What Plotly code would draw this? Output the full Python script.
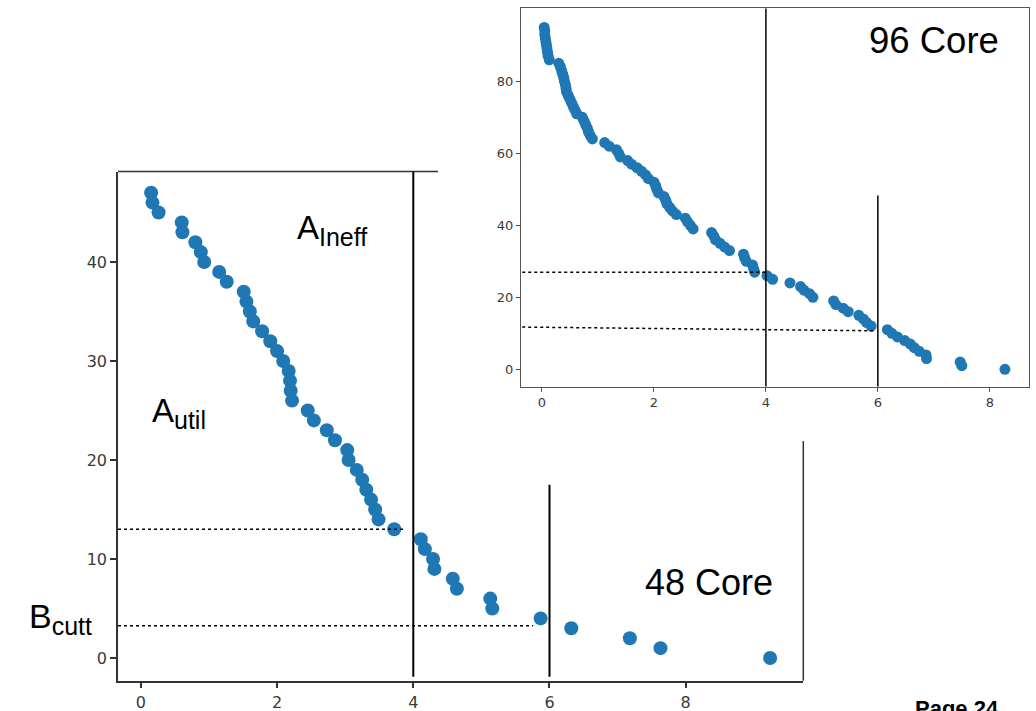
import plotly.graph_objects as go

# ---------------- data ----------------
# 48-core run: sorted per-core values (y) vs time (x)
x48 = [0.15, 0.17, 0.26, 0.60, 0.61, 0.80, 0.88, 0.93, 1.15, 1.26,
       1.51, 1.55, 1.60, 1.65, 1.78, 1.90, 2.00, 2.09, 2.17, 2.19,
       2.20, 2.22, 2.45, 2.54, 2.73, 2.85, 3.03, 3.05, 3.17, 3.25,
       3.31, 3.38, 3.44, 3.49, 3.72, 4.11, 4.17, 4.29, 4.31, 4.58,
       4.64, 5.13, 5.16, 5.87, 6.32, 7.18, 7.63, 9.24]
y48 = [47, 46, 45, 44, 43, 42, 41, 40, 39, 38,
       37, 36, 35, 34, 33, 32, 31, 30, 29, 28,
       27, 26, 25, 24, 23, 22, 21, 20, 19, 18,
       17, 16, 15, 14, 13, 12, 11, 10, 9, 8,
       7, 6, 5, 4, 3, 2, 1, 0]

# 96-core run (inset)
x96 = [0.04, 0.05, 0.05, 0.06, 0.07, 0.08, 0.09, 0.10, 0.11, 0.13,
       0.30, 0.33, 0.35, 0.37, 0.39, 0.40, 0.42, 0.43, 0.44, 0.47,
       0.50, 0.53, 0.56, 0.59, 0.62, 0.72, 0.75, 0.78, 0.81, 0.83,
       0.86, 0.90, 1.12, 1.20, 1.33, 1.37, 1.40, 1.53, 1.60, 1.70,
       1.78, 1.85, 1.90, 2.00, 2.03, 2.05, 2.08, 2.18, 2.21, 2.23,
       2.28, 2.33, 2.40, 2.56, 2.60, 2.65, 2.70, 3.03, 3.07, 3.10,
       3.18, 3.26, 3.35, 3.60, 3.62, 3.65, 3.76, 3.78, 3.80, 4.02,
       4.12, 4.43, 4.62, 4.68, 4.78, 4.84, 5.21, 5.25, 5.38, 5.47,
       5.66, 5.74, 5.80, 5.88, 6.17, 6.25, 6.35, 6.48, 6.58, 6.65,
       6.74, 6.86, 6.87, 7.47, 7.50, 8.27]
y96 = [95, 94, 93, 92, 91, 90, 89, 88, 87, 86,
       85, 84, 83, 82, 81, 80, 79, 78, 77, 76,
       75, 74, 73, 72, 71, 70, 69, 68, 67, 66,
       65, 64, 63, 62, 61, 60, 59, 58, 57, 56,
       55, 54, 53, 52, 51, 50, 49, 48, 47, 46,
       45, 44, 43, 42, 41, 40, 39, 38, 37, 36,
       35, 34, 33, 32, 31, 30, 29, 28, 27, 26,
       25, 24, 23, 22, 21, 20, 19, 18, 17, 16,
       15, 14, 13, 12, 11, 10, 9, 8, 7, 6,
       5, 4, 3, 2, 1, 0]

x48_ticks = [0, 2, 4, 6, 8]
y48_ticks = [0, 10, 20, 30, 40]
x96_ticks = [0, 2, 4, 6, 8]
y96_ticks = [0, 20, 40, 60, 80]

BLUE = "#1f77b4"
W, H = 1036, 711

fig = go.Figure()
fig.add_trace(go.Scatter(x=x48, y=y48, mode="markers", xaxis="x", yaxis="y",
                         marker=dict(size=14, color=BLUE, line=dict(width=0)),
                         cliponaxis=False, showlegend=False, hoverinfo="skip"))
fig.add_trace(go.Scatter(x=x96, y=y96, mode="markers", xaxis="x2", yaxis="y2",
                         marker=dict(size=11, color=BLUE, line=dict(width=0)),
                         cliponaxis=False, showlegend=False, hoverinfo="skip"))

tickfont_big = dict(family="DejaVu Sans", size=16, color="#3a3a3a")
tickfont_small = dict(family="DejaVu Sans", size=13, color="#3a3a3a")

X1 = [-0.336, 9.727]
Y1 = [-2.29, 49.14]
X2 = [-0.375, 8.70]
Y2 = [-4.83, 100.3]

common = dict(showgrid=False, zeroline=False, ticks="outside")
fig.update_layout(
    width=W, height=H, autosize=False,
    margin=dict(l=0, r=0, t=0, b=0, pad=0),
    paper_bgcolor="white", plot_bgcolor="rgba(0,0,0,0)",
    xaxis=dict(domain=[118 / W, 803.3 / W], range=X1, anchor="y",
               tickvals=x48_ticks, tickfont=tickfont_big, showline=True,
               linecolor="#333333", linewidth=1.5, ticklen=6, tickwidth=1.5,
               tickcolor="#333333", **common),
    yaxis=dict(domain=[1 - 680.7 / H, 1 - 171.5 / H], range=Y1, anchor="x",
               tickvals=y48_ticks, tickfont=tickfont_big, showline=True,
               linecolor="#333333", linewidth=1.5, ticklen=6, tickwidth=1.5,
               tickcolor="#333333", **common),
    xaxis2=dict(domain=[521 / W, 1029 / W], range=X2, anchor="y2",
                tickvals=x96_ticks, tickfont=tickfont_small, showline=True,
                mirror=True, linecolor="#555555", linewidth=1.2, ticklen=4,
                tickwidth=1.2, tickcolor="#555555", **common),
    yaxis2=dict(domain=[1 - 386.7 / H, 1 - 8.3 / H], range=Y2, anchor="x2",
                tickvals=y96_ticks, tickfont=tickfont_small, showline=True,
                mirror=True, linecolor="#555555", linewidth=1.2, ticklen=4,
                tickwidth=1.2, tickcolor="#555555", **common),
)

shapes = []
# partial top / right spines of the 48-core axes (rest hidden under the inset)
shapes.append(dict(type="line", xref="x domain", yref="y domain",
                   x0=0, x1=(438 - 118) / (803.3 - 118), y0=1, y1=1,
                   line=dict(color="#333333", width=1.5)))
shapes.append(dict(type="line", xref="x domain", yref="y domain",
                   x0=1, x1=1, y0=0, y1=(680.7 - 441) / (680.7 - 171.5),
                   line=dict(color="#333333", width=1.5)))
# 48-core markers
shapes.append(dict(type="line", xref="x", yref="y", x0=4, x1=4, y0=-1.9, y1=Y1[1],
                   line=dict(color="black", width=2)))
shapes.append(dict(type="line", xref="x", yref="y", x0=6, x1=6, y0=-1.9, y1=17.5,
                   line=dict(color="black", width=2)))
shapes.append(dict(type="line", xref="x", yref="y", x0=X1[0], x1=3.85, y0=13, y1=13,
                   line=dict(color="black", width=1.5, dash="dot")))
shapes.append(dict(type="line", xref="x", yref="y", x0=X1[0], x1=5.76, y0=3.26, y1=3.26,
                   line=dict(color="black", width=1.5, dash="dot")))
# 96-core markers
shapes.append(dict(type="line", xref="x2", yref="y2", x0=4, x1=4, y0=Y2[0], y1=Y2[1],
                   line=dict(color="black", width=1.5)))
shapes.append(dict(type="line", xref="x2", yref="y2", x0=6, x1=6, y0=48.3, y1=Y2[0],
                   line=dict(color="black", width=1.5)))
shapes.append(dict(type="line", xref="x2", yref="y2", x0=-0.46, x1=3.98, y0=27, y1=27,
                   line=dict(color="black", width=1.5, dash="dot")))
shapes.append(dict(type="line", xref="x2", yref="y2", x0=-0.46, x1=5.95, y0=11.75, y1=10.7,
                   line=dict(color="black", width=1.5, dash="dot")))
fig.update_layout(shapes=shapes)

TXT = "Liberation Sans"
def ann(text, px, py, size, xanchor="left", yanchor="middle", bold=False):
    return dict(text=("<b>%s</b>" % text) if bold else text,
                x=px / W, y=1 - py / H, xref="paper", yref="paper",
                xanchor=xanchor, yanchor=yanchor, showarrow=False,
                font=dict(family=TXT, size=size, color="black"), borderpad=0)

def sub(main, s, size):
    return '%s<sub><span style="font-size:%dpx">%s</span></sub>' % (main, size, s)

fig.update_layout(annotations=[
    ann(sub("A", "Ineff", 25), 296, 230, 33),
    ann(sub("A", "util", 25), 151, 413, 33),
    ann(sub("B", "cutt", 25), 28, 618, 34),
    ann("48 Core", 644, 582.5, 36),
    ann("96 Core", 868, 40.5, 36.5),
    ann("Page 24", 914, 695, 22, yanchor="top", bold=True),
])

fig.write_html("out.html", config={"displayModeBar": False},
               post_script="document.body.style.margin='0';")
